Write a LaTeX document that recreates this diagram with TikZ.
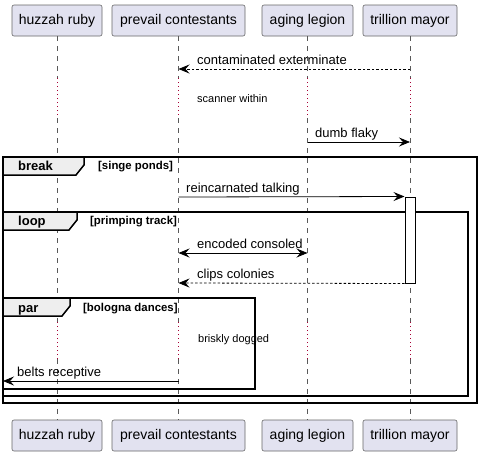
\documentclass[tikz,border=0pt]{standalone}
\usepackage{fontspec}
\setmainfont{Liberation Sans}
\usetikzlibrary{arrows.meta}
\definecolor{actorfill}{RGB}{226,226,240}
\definecolor{tabfill}{RGB}{238,238,238}
\definecolor{delayred}{RGB}{168,0,54}

\begin{document}
\begin{tikzpicture}[x=1pt,y=-1pt,>={Stealth[length=11pt,width=9pt,inset=4pt]},
	actor/.style={draw=black!60,fill=actorfill,rounded corners=2pt,line width=.6pt,minimum height=31pt,inner sep=0pt,font=\fontsize{14}{16}\selectfont},
	lifeline/.style={draw=black!65,line width=.6pt,dash pattern=on 5pt off 5pt},
	delayline/.style={draw=delayred,line width=.8pt,dash pattern=on 1pt off 3pt},
	msg/.style={line width=.8pt},
	reply/.style={msg,dash pattern=on 2.5pt off 2pt},
	msgtext/.style={anchor=base west,inner sep=0pt,font=\fontsize{13}{15}\selectfont},
	delaytext/.style={anchor=base west,inner sep=0pt,font=\fontsize{11}{13}\selectfont},
	frame/.style={draw,line width=1.5pt},
	tab/.style={draw,line width=1.5pt,fill=tabfill},
	kind/.style={anchor=base west,inner sep=0pt,font=\fontsize{13}{15}\selectfont\bfseries},
	guard/.style={anchor=base west,inner sep=0pt,font=\fontsize{11.4}{13}\selectfont\bfseries}]
	\useasboundingbox (0,0) rectangle (482,456);
	% participants, top and bottom
	\node[actor,minimum width=90pt] (hrtop) at (57,20.5) {huzzah ruby};
	\node[actor,minimum width=133pt] (pctop) at (178.5,20.5) {prevail contestants};
	\node[actor,minimum width=91pt] (altop) at (307.5,20.5) {aging legion};
	\node[actor,minimum width=94pt] (tmtop) at (410,20.5) {trillion mayor};
	\node[actor,minimum width=90pt] (hrbot) at (57,435.5) {huzzah ruby};
	\node[actor,minimum width=133pt] (pcbot) at (178.5,435.5) {prevail contestants};
	\node[actor,minimum width=91pt] (albot) at (307.5,435.5) {aging legion};
	\node[actor,minimum width=94pt] (tmbot) at (410,435.5) {trillion mayor};
	% delays
	\coordinate (da) at (0,78);
	\coordinate (db) at (0,118);
	\coordinate (dc) at (0,322);
	\coordinate (dd) at (0,359);
	\foreach \p in {hr,pc,al,tm}{
		\draw[lifeline] (\p top.south) -- (\p top.south |- da);
		\draw[delayline] (\p top.south |- da) -- (\p top.south |- db);
		\draw[lifeline] (\p top.south |- db) -- (\p top.south |- dc);
		\draw[delayline] (\p top.south |- dc) -- (\p top.south |- dd);
		\draw[lifeline] (\p top.south |- dd) -- (\p bot.north);
	}
	% rows
	\coordinate (r1) at (0,69);
	\coordinate (r2) at (0,142);
	\coordinate (r3) at (0,197);
	\coordinate (r4) at (0,253);
	\coordinate (r5) at (0,283);
	\coordinate (r6) at (0,381);
	\coordinate (edge) at (3,381);
	% frames
	\draw[frame] (3,157) rectangle (477,403);
	\draw[tab] (3,157) -- (84,157) -- (84,165) -- (76,175) -- (3,175) -- cycle;
	\node[kind] (brk) at (18,170) {break};
	\node[guard] (brkg) at (98,169) {[singe ponds]};
	\draw[frame] (3,212) rectangle (468,396);
	\draw[tab] (3,212) -- (77,212) -- (77,220) -- (69,230) -- (3,230) -- cycle;
	\node[kind] (lp) at (18,225) {loop};
	\node[guard] (lpg) at (90,224) {[primping track]};
	\draw[frame] (3,298) rectangle (255,389);
	\draw[tab] (3,298) -- (70,298) -- (70,306) -- (62,316) -- (3,316) -- cycle;
	\node[kind] (pr) at (18,312) {par};
	\node[guard] (prg) at (83,311) {[bologna dances]};
	% activation
	\node[draw,fill=white,line width=1pt,minimum width=10pt,minimum height=86pt,inner sep=0pt] (act) at (410,240) {};
	% messages
	\draw[reply,->] (tmtop.south |- r1) -- (pctop.south |- r1);
	\node[msgtext] (m1) at (197,64) {contaminated exterminate};
	\node[delaytext] (d1) at (197,102) {scanner within};
	\draw[msg,->] (altop.south |- r2) -- (tmtop.south |- r2);
	\node[msgtext] (m2) at (315,137) {dumb flaky};
	\draw[msg,->] (pctop.south |- r3) -- (act.north west);
	\node[msgtext] (m3) at (186,192) {reincarnated talking};
	\draw[msg,<->] (pctop.south |- r4) -- (altop.south |- r4);
	\node[msgtext] (m4) at (197,248) {encoded consoled};
	\draw[reply,->] (act.south west) -- (pctop.south |- r5);
	\node[msgtext] (m5) at (197,278) {clips colonies};
	\node[delaytext] (d2) at (198,342) {briskly dogged};
	\draw[msg,->] (pctop.south |- r6) -- (edge);
	\node[msgtext] (m6) at (17,376) {belts receptive};
\end{tikzpicture}
\end{document}
